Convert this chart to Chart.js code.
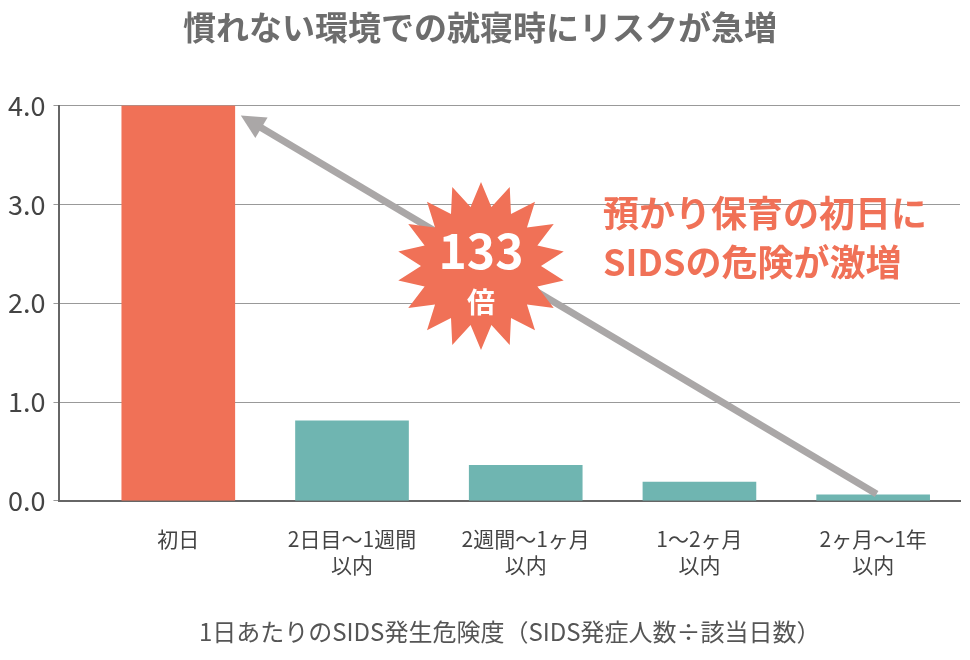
<!DOCTYPE html><html><head><meta charset="utf-8">
<script src="https://cdn.jsdelivr.net/npm/chart.js@4/dist/chart.umd.min.js"></script>
<style>html,body{margin:0;background:#fff}#w{width:970px;height:660px}</style></head><body><div id="w"><canvas id="c"></canvas></div>
<script>
const categories=[["初日"],["2日目〜1週間","以内"],["2週間〜1ヶ月","以内"],["1〜2ヶ月","以内"],["2ヶ月〜1年","以内"]];
const values=[4.0,0.81,0.36,0.19,0.06];
const colors=["#f07157","#6fb5b1","#6fb5b1","#6fb5b1","#6fb5b1"];
const yTicks=[0,1,2,3,4];
const F="'Noto Sans CJK JP','Noto Sans',sans-serif";
const deco={id:'deco',afterDatasetsDraw(ch){
 const c=ch.ctx,x=ch.scales.x,y=ch.scales.y;
 const x1=x.getPixelForValue(4.02),y1=y.getPixelForValue(0.07),x2=x.getPixelForValue(0.36),y2=y.getPixelForValue(3.9);
 c.save();c.strokeStyle="#aaa7a7";c.fillStyle="#aaa7a7";c.lineWidth=7;
 const a=Math.atan2(y2-y1,x2-x1);
 c.beginPath();c.moveTo(x1,y1);c.lineTo(x2-14*Math.cos(a),y2-14*Math.sin(a));c.stroke();
 c.beginPath();c.moveTo(x2,y2);c.lineTo(x2-24*Math.cos(a)+12*Math.sin(a),y2-24*Math.sin(a)-12*Math.cos(a));c.lineTo(x2-24*Math.cos(a)-12*Math.sin(a),y2-24*Math.sin(a)+12*Math.cos(a));c.closePath();c.fill();
 const cx=481,cy=266,n=18;c.fillStyle="#f07157";c.beginPath();
 for(let i=0;i<2*n;i++){const r=i%2?60:84,t=i*Math.PI/n-Math.PI/2;c.lineTo(cx+r*Math.cos(t),cy+r*Math.sin(t));}
 c.closePath();c.fill();
 c.fillStyle="#fff";c.textAlign="center";c.textBaseline="middle";
 c.font="bold 48px "+F;c.fillText("133",cx,cy-15);c.font="bold 28px "+F;c.fillText("倍",cx,cy+36);
 c.fillStyle="#f07157";c.textAlign="left";c.font="bold 36px "+F;
 c.fillText("預かり保育の初日に",603,213);c.fillText("SIDSの危険が激増",603,262);
 c.restore();}};
new Chart(document.getElementById('c'),{type:'bar',
 data:{datasets:[{data:values.map((v,i)=>({x:i,y:v})),backgroundColor:colors,barThickness:113}]},
 options:{responsive:true,maintainAspectRatio:false,animation:false,
 layout:{padding:{left:0,right:10,top:0,bottom:10}},
 plugins:{legend:{display:false},tooltip:{enabled:false},
  title:{display:true,text:"慣れない環境での就寝時にリスクが急増",color:"#6d6d6d",font:{family:F,size:33,weight:'bold'},padding:{top:8,bottom:58}}},
 scales:{x:{type:'linear',offset:false,min:-0.684,max:4.5,afterBuildTicks:s=>{s.ticks=categories.map((_,i)=>({value:i}));},
   ticks:{autoSkip:false,maxRotation:0,callback:(v)=>categories[v],color:"#444",font:{family:F,size:21},padding:18},
   grid:{display:false},border:{color:"#666",width:2},
   title:{display:true,text:"1日あたりのSIDS発生危険度（SIDS発症人数÷該当日数）",color:"#555",font:{family:F,size:24},padding:{top:22}}},
  y:{min:0,max:4,afterBuildTicks:s=>{s.ticks=yTicks.map(v=>({value:v}));},
   ticks:{callback:v=>v.toFixed(1),color:"#444",font:{family:F,size:27},padding:8},
   grid:{color:"#999",drawTicks:true,tickLength:6},border:{color:"#666",width:2}}}},
 plugins:[deco]});
</script></body></html>
